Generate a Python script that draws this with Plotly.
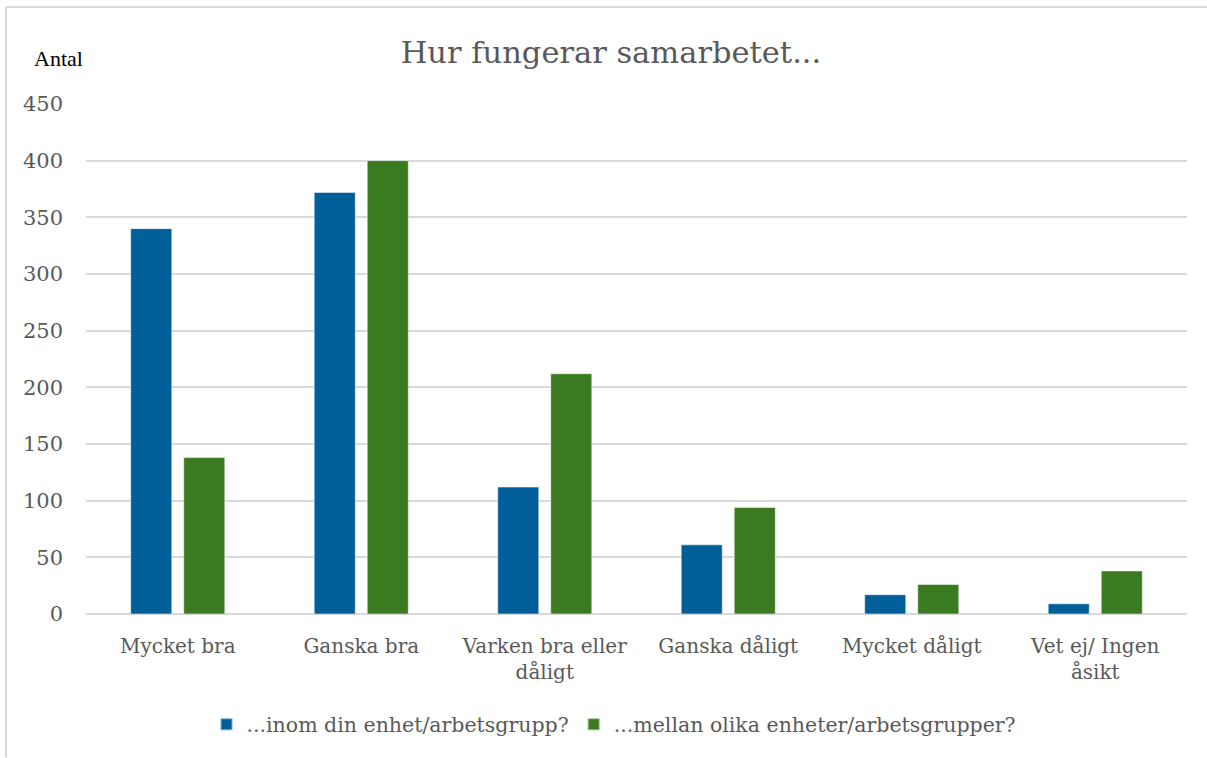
import plotly.graph_objects as go

categories = ["Mycket bra", "Ganska bra", "Varken bra eller<br>dåligt", "Ganska dåligt",
              "Mycket dåligt", "Vet ej/ Ingen<br>åsikt"]
inom = [340, 372, 112, 61, 17, 9]
mellan = [138, 400, 212, 94, 26, 38]
series_names = ["...inom din enhet/arbetsgrupp?", "...mellan olika enheter/arbetsgrupper?"]
y_ticks = [0, 50, 100, 150, 200, 250, 300, 350, 400, 450]

BLUE = "#005F98"
GREEN = "#3A7A21"
GRID = "#d9d9d9"
TXT = "#595959"
SERIF = "DejaVu Serif"

fig = go.Figure()
fig.add_trace(go.Bar(x=categories, y=inom, name=series_names[0],
                     marker=dict(color=BLUE, line=dict(color="rgba(255,255,255,0.5)", width=1))))
fig.add_trace(go.Bar(x=categories, y=mellan, name=series_names[1],
                     marker=dict(color=GREEN, line=dict(color="rgba(255,255,255,0.5)", width=1))))

W, H = 1207, 758
L, R, T, B = 86, 20, 104, 143.5
pw = W - L - R
ph = H - T - B

def px_x(x):
    return (x - L) / pw

def px_y(y):
    return (H - B - y) / ph

fig.update_layout(
    width=W, height=H,
    margin=dict(l=L, r=R, t=T, b=B, autoexpand=False),
    paper_bgcolor="white", plot_bgcolor="white",
    barmode="group", bargap=0.422, bargroupgap=0.226,
    title=dict(text="Hur fungerar samarbetet...", x=611 / W, xanchor="center",
               y=1 - 52 / H, yanchor="middle",
               font=dict(family=SERIF, size=30.5, color=TXT)),
    xaxis=dict(showgrid=False, showline=False, ticks="", ticklabelstandoff=18,
               tickfont=dict(family=SERIF, size=20, color=TXT)),
    yaxis=dict(range=[0, 450], tickvals=y_ticks, showgrid=True, gridcolor=GRID, gridwidth=1.5,
               zeroline=True, zerolinecolor=GRID, zerolinewidth=1.5, showline=False,
               ticks="", ticklabelstandoff=22,
               tickfont=dict(family=SERIF, size=21, color=TXT)),
    legend=dict(orientation="h", x=px_x(614), xanchor="center", y=px_y(725), yanchor="middle",
                font=dict(family=SERIF, size=20.5, color=TXT), itemsizing="constant",
                tracegroupgap=0, itemwidth=30),
    showlegend=True,
    annotations=[dict(text="Antal", xref="paper", yref="paper", x=px_x(32), y=px_y(58),
                      xanchor="left", yanchor="middle", showarrow=False,
                      font=dict(family="Liberation Serif", size=22, color="black"))],
    shapes=[
        dict(type="line", xref="paper", yref="paper", x0=px_x(6), x1=px_x(1207),
             y0=px_y(7), y1=px_y(7), line=dict(color=GRID, width=2)),
        dict(type="line", xref="paper", yref="paper", x0=px_x(6), x1=px_x(6),
             y0=px_y(7), y1=px_y(758), line=dict(color=GRID, width=2)),
    ],
)

fig.write_html("out.html", config={"displayModeBar": False},
               post_script="document.body.style.margin='0px';")
